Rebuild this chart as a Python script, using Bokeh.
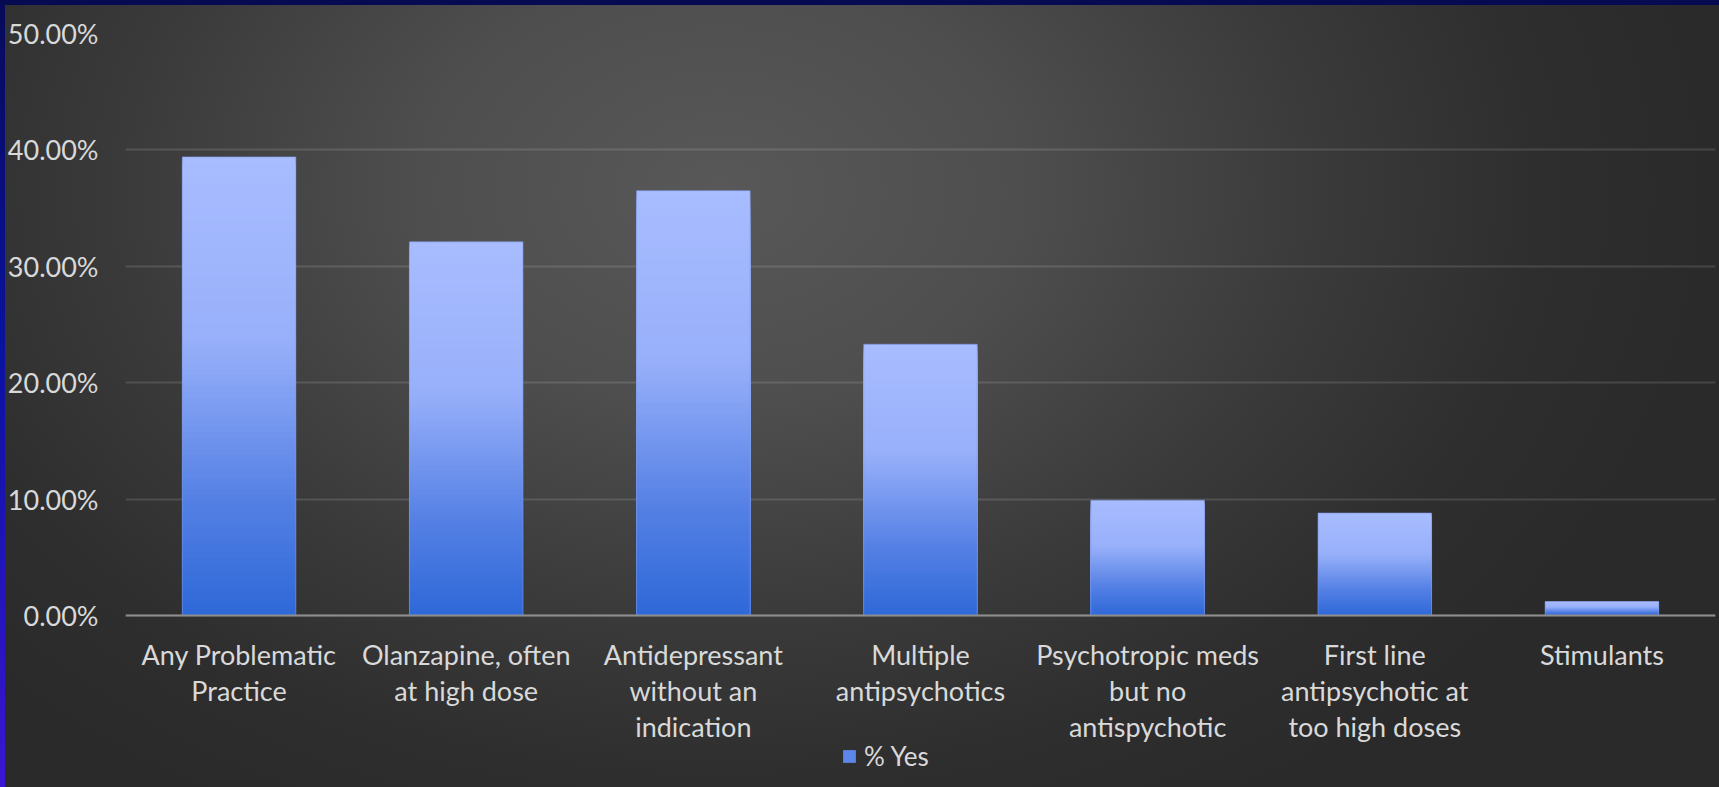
from bokeh.plotting import figure
from bokeh.models import (ColumnDataSource, Range1d, FactorRange, FixedTicker,
                          NumeralTickFormatter, Legend, LegendItem, Span)
from bokeh.core.properties import value
from bokeh.embed import file_html
from bokeh.resources import INLINE

# Share of patients with each prescribing practice
categories = [
    "Any Problematic\nPractice",
    "Olanzapine, often\nat high dose",
    "Antidepressant\nwithout an\nindication",
    "Multiple\nantipsychotics",
    "Psychotropic meds\nbut no\nantispychotic",
    "First line\nantipsychotic at\ntoo high doses",
    "Stimulants",
]
pct_yes = [0.394, 0.321, 0.365, 0.233, 0.099, 0.088, 0.012]
y_ticks = [0.0, 0.1, 0.2, 0.3, 0.4, 0.5]
series_name = "% Yes"

FONT = "Lato"
TEXT = "#d9d9d9"

# vertical gradient for the bars: t=0 at the top of a bar, t=1 at its base
stops = [
    (0.00, (168, 188, 255)),
    (0.40, (152, 176, 250)),
    (0.75, (84, 128, 228)),
    (1.00, (46, 104, 216)),
]


def grad(t):
    for (t0, c0), (t1, c1) in zip(stops[:-1], stops[1:]):
        if t <= t1:
            f = (t - t0) / (t1 - t0) if t1 > t0 else 0
            r, g, b = (round(a + (bb - a) * f) for a, bb in zip(c0, c1))
            return f"#{r:02x}{g:02x}{b:02x}"
    r, g, b = stops[-1][1]
    return f"#{r:02x}{g:02x}{b:02x}"


# each bar is built from nested slices, tallest first, so its colour
# runs from light at the top to deep blue at the base
N = 80
xs, tops, cols = [], [], []
for cat, v in zip(categories, pct_yes):
    for k in range(N, 0, -1):
        xs.append(cat)
        tops.append(v * k / N)
        cols.append(grad(1 - (k - 0.5) / N))
slices = ColumnDataSource(dict(x=xs, top=tops, color=cols))
bars = ColumnDataSource(dict(x=categories, top=pct_yes))

# the frame runs down to the bottom edge so that the category labels and
# the legend can sit in the space below the zero line
H, TOP_PAD = 787, 33
PX_PER_UNIT = (H - TOP_PAD) / (0.5 + 0.1478)

p = figure(
    width=1719, height=H,
    x_range=FactorRange(*categories, range_padding=0),
    y_range=Range1d(0.5 - (H - TOP_PAD) / PX_PER_UNIT, 0.5),
    output_backend="svg", toolbar_location=None,
    min_border_left=125, min_border_right=4,
    min_border_top=TOP_PAD, min_border_bottom=0,
)
p.border_fill_color = None
p.background_fill_color = None
p.outline_line_color = None
p.styles = {
    "background": (
        "linear-gradient(#060a50, #060a50) top left / 100% 5px no-repeat, "
        "linear-gradient(to bottom, #070a58, #0a12a0 45%, #3a16d2) top left / 5px 100% no-repeat, "
        "radial-gradient(ellipse 1000px 720px at 720px 190px, #585858 0%, #4e4e4e 30%, "
        "#3a3a3a 60%, #2e2e2e 82%, #2a2a2a 100%)"
    )
}

r_bars = p.vbar(x="x", top="top", bottom=0, width=0.5, source=slices,
                fill_color="color", line_color=None)
p.vbar(x="x", top="top", bottom=0, width=0.5, source=bars,
       fill_color=None, line_color="#7e97e2", line_alpha=0.6, line_width=1)

# value axis
p.yaxis.ticker = FixedTicker(ticks=y_ticks)
p.yaxis.formatter = NumeralTickFormatter(format="0.00%")
p.yaxis.axis_line_color = None
p.yaxis.major_tick_line_color = None
p.yaxis.minor_tick_line_color = None
p.yaxis.major_tick_out = 0
p.yaxis.major_label_standoff = 27
p.yaxis.major_label_text_font = FONT
p.yaxis.major_label_text_font_size = "27px"
p.yaxis.major_label_text_color = TEXT

p.xaxis.visible = False
p.xgrid.grid_line_color = None
p.ygrid.grid_line_color = "white"
p.ygrid.grid_line_alpha = 0.13
p.ygrid.grid_line_width = 2

# zero line and category labels underneath it
p.add_layout(Span(location=0, dimension="width", line_color="#8e8e8e", line_width=2))
p.text(x=categories, y=[0] * len(categories), text=categories,
       y_offset=23, text_align="center", text_baseline="top",
       text_font=value(FONT), text_font_size="27px", text_color=TEXT,
       text_line_height=1.09)

legend = Legend(
    items=[LegendItem(label=series_name, renderers=[r_bars], index=56)],
    location=(716, 15),
    background_fill_alpha=0, border_line_color=None,
    glyph_width=16, glyph_height=16, label_standoff=7,
    padding=0, margin=0,
    label_text_font=FONT, label_text_font_size="26px", label_text_color=TEXT,
)
p.add_layout(legend, "center")

open("out.html", "w").write(file_html(p, INLINE))
